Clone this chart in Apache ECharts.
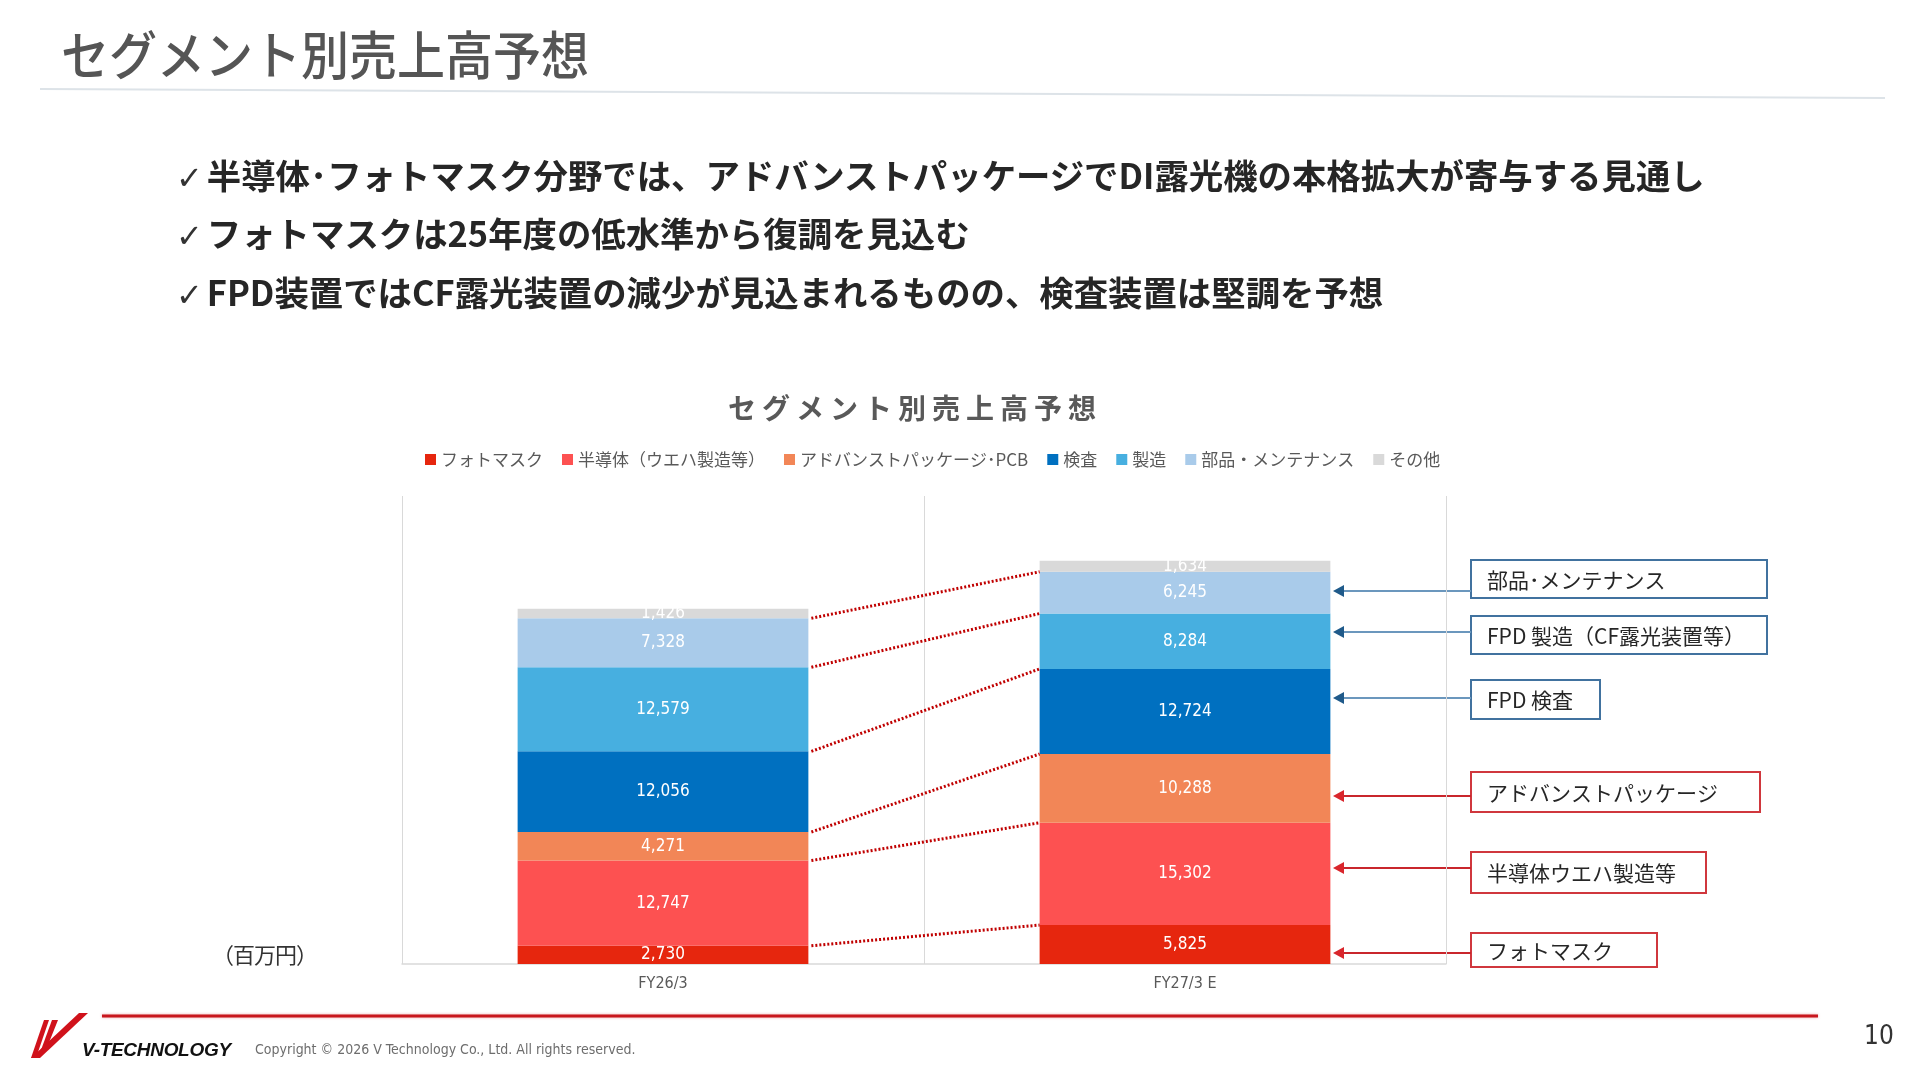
<!DOCTYPE html>
<html>
<head>
<meta charset="utf-8">
<script src="https://cdn.jsdelivr.net/npm/echarts@6/dist/echarts.min.js"></script>
<style>
  body { margin: 0; background: #fff; }
  #page { position: relative; width: 1920px; height: 1080px; overflow: hidden; font-family: 'Noto Sans CJK JP', 'Noto Sans', sans-serif; }
  #chart { position: absolute; left: 0; top: 0; width: 1920px; height: 1080px; }
  .txt { position: absolute; white-space: nowrap; line-height: 1; pointer-events: none; }
  #title { left: 61px; top: 26px; font-size: 48px; color: #555; font-weight: 500; transform: scaleY(1.08); transform-origin: left top; }
  .bullet { left: 176px; font-size: 34.4px; font-weight: 700; color: #262626; }
  .bullet .ck { font-weight: 700; font-family: 'DejaVu Sans', sans-serif; font-size: 32px; margin-right: 4px; color: #333; }
  #ctitle { left: 915px; top: 393px; transform: translateX(-50%); font-size: 28px; font-weight: 700; color: #595959; letter-spacing: 6px; }
  #unit { left: 212px; top: 942px; font-size: 22px; color: #333; letter-spacing: -1px; }
  #brand { left: 82px; top: 1040px; font-size: 19px; font-weight: 900; font-family: 'Liberation Sans', sans-serif; color: #111; letter-spacing: -0.3px; font-style: italic; }
  #copy { left: 255px; top: 1042px; font-size: 14px; font-family: 'Liberation Sans Narrow', 'DejaVu Sans Condensed', sans-serif; color: #6d6d6d; }
  #pnum { left: 1864px; top: 1022px; font-size: 26px; color: #333; font-family: 'Liberation Sans Narrow', 'DejaVu Sans Condensed', sans-serif; }
</style>
</head>
<body>
<div id="page">
  <div id="chart"></div>
  <div class="txt" id="title">セグメント別売上高予想</div>
  <div class="txt bullet" style="top:157px"><span class="ck">✓</span>半導体･フォトマスク分野では、アドバンストパッケージでDI露光機の本格拡大が寄与する見通し</div>
  <div class="txt bullet" style="top:215px"><span class="ck">✓</span>フォトマスクは25年度の低水準から復調を見込む</div>
  <div class="txt bullet" style="top:274px"><span class="ck">✓</span>FPD装置ではCF露光装置の減少が見込まれるものの、検査装置は堅調を予想</div>
  <div class="txt" id="ctitle">セグメント別売上高予想</div>
  <div class="txt" id="unit">（百万円）</div>
  <div class="txt" id="brand">V-TECHNOLOGY</div>
  <div class="txt" id="copy">Copyright © 2026 V Technology Co., Ltd. All rights reserved.</div>
  <div class="txt" id="pnum">10</div>
</div>
<script>
var categories = ['FY26/3', 'FY27/3 E'];
var seriesNames = ['フォトマスク', '半導体（ウエハ製造等）', 'アドバンストパッケージ･PCB', '検査', '製造', '部品・メンテナンス', 'その他'];
var photomask = [2730, 5825];
var semiWafer = [12747, 15302];
var advPackage = [4271, 10288];
var inspection = [12056, 12724];
var manufacturing = [12579, 8284];
var partsMaint = [7328, 6245];
var others = [1426, 1634];
var seriesColors = ['#e6260e', '#fd5151', '#f28657', '#0070c0', '#47afe0', '#a9cbea', '#d9d9d9'];

var seriesValues = [photomask, semiWafer, advPackage, inspection, manufacturing, partsMaint, others];

// callout boxes on the right (annotation layout, pixels)
var callouts = [
  { text: '部品･メンテナンス', kind: 'blue', x: 1471, y: 560, w: 296, h: 38, ay: 591 },
  { text: 'FPD 製造（CF露光装置等）', kind: 'blue', x: 1471, y: 616, w: 296, h: 38, ay: 632 },
  { text: 'FPD 検査', kind: 'blue', x: 1471, y: 680, w: 129, h: 39, ay: 698 },
  { text: 'アドバンストパッケージ', kind: 'red', x: 1471, y: 772, w: 289, h: 40, ay: 796 },
  { text: '半導体ウエハ製造等', kind: 'red', x: 1471, y: 852, w: 235, h: 41, ay: 868 },
  { text: 'フォトマスク', kind: 'red', x: 1471, y: 933, w: 186, h: 34, ay: 953 }
];

var barWidthRatio = 0.557;

// cumulative tops of each segment, used for the dotted connectors
var connectors = [];
var cum = [0, 0];
for (var i = 0; i < seriesValues.length - 1; i++) {
  cum[0] += seriesValues[i][0];
  cum[1] += seriesValues[i][1];
  connectors.push([0, cum[0], cum[1]]);
}

var myChart = echarts.init(document.getElementById('chart'));

var labelFont = "'Liberation Sans Narrow', 'DejaVu Sans Condensed', sans-serif";

var series = seriesNames.map(function (name, idx) {
  return {
    name: name,
    type: 'bar',
    stack: 'total',
    barWidth: (barWidthRatio * 100) + '%',
    data: seriesValues[idx],
    itemStyle: { color: seriesColors[idx] },
    label: {
      show: true,
      position: 'inside',
      color: '#fff',
      fontSize: 17,
      fontFamily: labelFont,
      formatter: function (p) { return p.value.toLocaleString('en-US'); }
    }
  };
});

series.push({
  type: 'custom',
  name: 'connector',
  silent: true,
  z: 5,
  encode: { x: 0, y: 1 },
  data: connectors,
  renderItem: function (params, api) {
    var p1 = api.coord([0, api.value(1)]);
    var p2 = api.coord([1, api.value(2)]);
    var half = api.size([1, 0])[0] * barWidthRatio / 2;
    return {
      type: 'line',
      shape: { x1: p1[0] + half + 3, y1: p1[1], x2: p2[0] - half, y2: p2[1] },
      style: { stroke: '#c00000', lineWidth: 3, lineDash: [2, 2] }
    };
  }
});

var graphics = [
  { type: 'line', shape: { x1: 40, y1: 89, x2: 1885, y2: 98 }, style: { stroke: '#dde3e8', lineWidth: 2 } },
  { type: 'line', shape: { x1: 102, y1: 1016, x2: 1818, y2: 1016 }, style: { stroke: '#c8161d', lineWidth: 3, shadowBlur: 3, shadowColor: 'rgba(200,22,29,0.4)' } },
  // logo mark
  { type: 'polygon', shape: { points: [[44, 1020], [49, 1020], [36, 1058], [31, 1058]] }, style: { fill: '#d0121b' } },
  { type: 'polygon', shape: { points: [[31, 1058], [40, 1058], [88, 1013], [79, 1013]] }, style: { fill: '#d0121b' } },
  { type: 'polygon', shape: { points: [[52, 1020], [58, 1020], [46, 1050], [41, 1050]] }, style: { fill: '#d0121b' } }
];

callouts.forEach(function (c) {
  var border = c.kind === 'blue' ? '#41729f' : '#d0373d';
  var lineCol = c.kind === 'blue' ? '#6b97bd' : '#c9262c';
  var headCol = c.kind === 'blue' ? '#1f5a8a' : '#d9262c';
  var tipX = 1333;
  graphics.push({ type: 'rect', shape: { x: c.x, y: c.y, width: c.w, height: c.h }, style: { fill: '#fff', stroke: border, lineWidth: 2 } });
  graphics.push({ type: 'text', x: c.x + 16, y: c.y + c.h / 2 + 1, style: { text: c.text, fill: '#262626', fontSize: 21, fontFamily: "'Noto Sans CJK JP', sans-serif", verticalAlign: 'middle' } });
  graphics.push({ type: 'line', shape: { x1: tipX + 10, y1: c.ay, x2: c.x, y2: c.ay }, style: { stroke: lineCol, lineWidth: 2 } });
  graphics.push({ type: 'polygon', shape: { points: [[tipX, c.ay], [tipX + 11, c.ay - 6], [tipX + 11, c.ay + 6]] }, style: { fill: headCol } });
});

myChart.setOption({
  animation: false,
  textStyle: { fontFamily: "'Noto Sans CJK JP', sans-serif" },
  legend: {
    data: seriesNames,
    top: 446,
    left: 420,
    itemWidth: 11,
    itemHeight: 11,
    itemGap: 19,
    icon: 'rect',
    textStyle: { fontSize: 17, color: '#595959' }
  },
  grid: { left: 402, right: 474, top: 496, bottom: 116 },
  xAxis: {
    type: 'category',
    data: categories,
    axisTick: { show: false },
    axisLine: { lineStyle: { color: '#d9d9d9', width: 1.5 } },
    splitLine: { show: true, lineStyle: { color: '#d9d9d9' } },
    axisLabel: { color: '#595959', fontSize: 16, margin: 12, fontFamily: labelFont, letterSpacing: 3 }
  },
  yAxis: {
    type: 'value',
    min: 0,
    max: 70000,
    show: false,
    splitLine: { show: false }
  },
  series: series,
  graphic: graphics
});

window.addEventListener('resize', function () {
  myChart.resize();
});
</script>
</body>
</html>
